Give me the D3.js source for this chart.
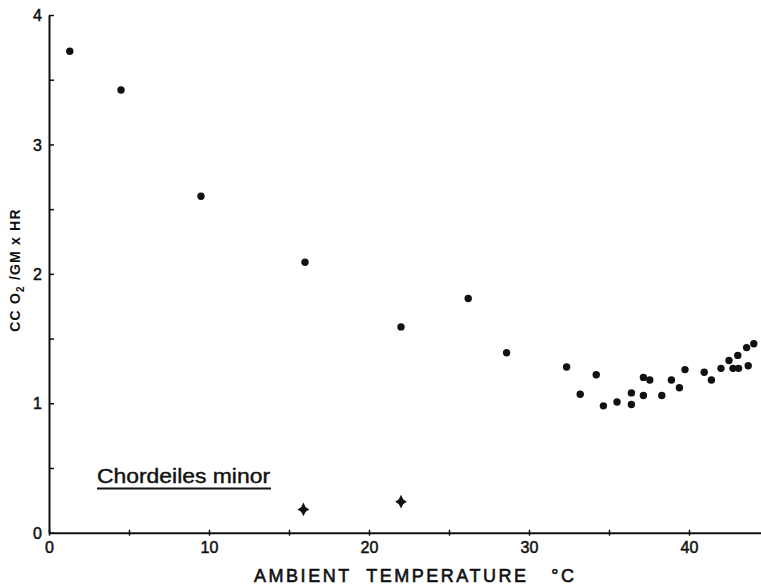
<!DOCTYPE html>
<html>
<head>
<meta charset="utf-8">
<script src="https://cdn.jsdelivr.net/npm/d3@7"></script>
<style>
  body { margin: 0; background: #fff; }
  svg { display: block; font-family: "Liberation Sans", Arial, sans-serif; }
</style>
</head>
<body>
<svg width="761" height="586"></svg>
<script>
// Chordeiles minor, O2 consumption vs ambient temperature
var tempC = [1.3, 4.5, 9.5, 16.0, 22.0, 26.2, 28.6,
    32.35, 33.2, 34.2, 34.65, 35.5, 36.4, 36.4, 37.15, 37.55, 37.15,
    38.3, 38.9, 39.4, 39.75, 40.95, 41.4, 42.0, 42.5, 42.75, 43.1,
    43.05, 43.7, 43.6, 44.05];
var ccO2 = [3.72, 3.42, 2.60, 2.09, 1.59, 1.81, 1.39,
    1.28, 1.07, 1.22, 0.98, 1.01, 1.08, 0.99, 1.20, 1.18, 1.06,
    1.06, 1.18, 1.12, 1.26, 1.24, 1.18, 1.27, 1.33, 1.27, 1.27,
    1.37, 1.29, 1.43, 1.46];

// the two starred points
var starTemp = [15.9, 22.0];
var starO2 = [0.18, 0.24];

var xTicks = [0, 5, 10, 15, 20, 25, 30, 35, 40];
var xTickLabels = [0, 10, 20, 30, 40];
var yTicks = [0, 0.5, 1, 1.5, 2, 2.5, 3, 3.5, 4];
var yTickLabels = [0, 1, 2, 3, 4];

var svg = d3.select('svg');

var x = d3.scaleLinear().domain([0, 44.5]).range([49, 761]);
var y = d3.scaleLinear().domain([0, 4]).range([532.7, 15]);

var ink = '#111';

// y axis, ticks point inward
var yAxis = d3.axisLeft(y)
    .tickValues(yTicks)
    .tickSizeInner(-5)
    .tickSizeOuter(0)
    .tickPadding(7)
    .tickFormat(d => yTickLabels.indexOf(d) >= 0 ? d3.format('d')(d) : '');

var gy = svg.append('g')
    .attr('transform', 'translate(' + x(0) + ',0)')
    .call(yAxis);

// x axis, ticks cross the line
var xAxis = d3.axisBottom(x)
    .tickValues(xTicks)
    .tickSizeInner(3)
    .tickSizeOuter(0)
    .tickPadding(6)
    .tickFormat(d => xTickLabels.indexOf(d) >= 0 ? d3.format('d')(d) : '');

var gx = svg.append('g')
    .attr('transform', 'translate(0,' + y(0) + ')')
    .call(xAxis);

gx.selectAll('.tick line').attr('y1', -3);

[gx, gy].forEach(g => {
    g.select('.domain').attr('stroke', ink).attr('stroke-width', 2);
    g.selectAll('.tick line').attr('stroke', ink).attr('stroke-width', 1.5);
    g.selectAll('.tick text')
        .attr('fill', ink)
        .attr('stroke', ink)
        .attr('stroke-width', 0.5)
        .attr('font-size', 16)
        .attr('font-family', '"Liberation Sans", Arial, sans-serif');
});
gy.selectAll('.tick text').attr('dy', '0.35em');

// dots
svg.append('g')
    .selectAll('circle')
    .data(d3.zip(tempC, ccO2))
    .enter()
    .append('circle')
    .attr('cx', d => x(d[0]))
    .attr('cy', d => y(d[1]))
    .attr('r', 3.7)
    .attr('fill', ink);

// four-pointed star marker
var sparkle = {
    draw: function(ctx, size) {
        var r = Math.sqrt(size) / 2;
        var h = r * 1.15;
        var k = r * 0.38;
        ctx.moveTo(0, -h);
        ctx.lineTo(k, -k);
        ctx.lineTo(r, 0);
        ctx.lineTo(k, k);
        ctx.lineTo(0, h);
        ctx.lineTo(-k, k);
        ctx.lineTo(-r, 0);
        ctx.lineTo(-k, -k);
        ctx.closePath();
    }
};

svg.append('g')
    .selectAll('path')
    .data(d3.zip(starTemp, starO2))
    .enter()
    .append('path')
    .attr('transform', d => 'translate(' + x(d[0]) + ',' + y(d[1]) + ')')
    .attr('d', d3.symbol().type(sparkle).size(140))
    .attr('fill', ink);
svg.append('g')
    .selectAll('circle')
    .data(d3.zip(starTemp, starO2))
    .enter()
    .append('circle')
    .attr('cx', d => x(d[0]))
    .attr('cy', d => y(d[1]))
    .attr('r', 3)
    .attr('fill', ink);

// species label
svg.append('text')
    .attr('x', 97)
    .attr('y', 483)
    .attr('font-size', 20)
    .attr('textLength', 173)
    .attr('lengthAdjust', 'spacingAndGlyphs')
    .attr('fill', ink)
    .attr('stroke', ink)
    .attr('stroke-width', 0.4)
    .text('Chordeiles minor');
svg.append('line')
    .attr('x1', 97).attr('x2', 271)
    .attr('y1', 488.5).attr('y2', 488.5)
    .attr('stroke', ink)
    .attr('stroke-width', 2);

// axis titles
svg.append('text')
    .attr('x', 254)
    .attr('y', 582)
    .attr('font-size', 18)
    .attr('textLength', 320)
    .attr('lengthAdjust', 'spacing')
    .attr('fill', ink)
    .attr('stroke', ink)
    .attr('stroke-width', 0.6)
    .style('white-space', 'pre')
    .text('AMBIENT  TEMPERATURE   \u00B0C');

var ylab = svg.append('text')
    .attr('transform', 'translate(20,270) rotate(-90)')
    .attr('text-anchor', 'middle')
    .attr('font-size', 14)
    .attr('font-weight', 'bold')
    .attr('letter-spacing', 1.2)
    .attr('fill', ink)
    .style('white-space', 'pre');
ylab.append('tspan').text('CC O');
ylab.append('tspan').attr('font-size', 10).attr('dy', 4).text('2');
ylab.append('tspan').attr('dy', -4).text(' /GM x HR');
</script>
</body>
</html>
